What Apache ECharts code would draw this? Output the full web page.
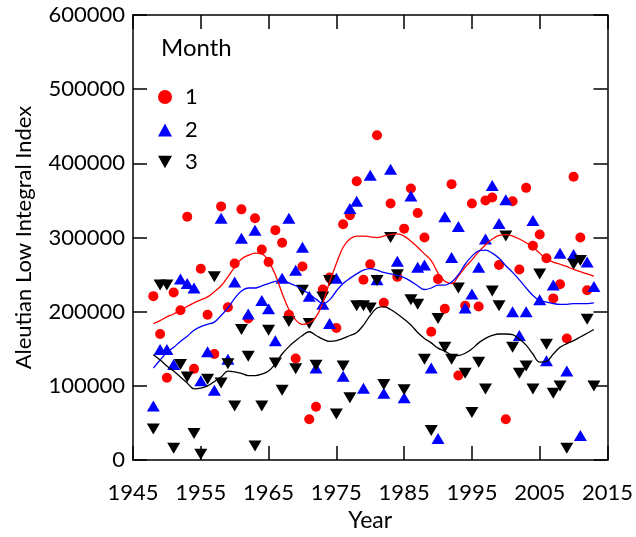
<!DOCTYPE html>
<html>
<head>
<meta charset="utf-8">
<script src="https://cdn.jsdelivr.net/npm/echarts@6/dist/echarts.min.js"></script>
<style>
html,body{margin:0;padding:0;background:#fff;}
#chart{width:636px;height:537px;}
</style>
</head>
<body>
<div id="chart"></div>
<script>
// Years (x axis)
const years = [1948,1949,1950,1951,1952,1953,1954,1955,1956,1957,1958,1959,1960,1961,1962,1963,1964,1965,1966,1967,
  1968,1969,1970,1971,1972,1973,1974,1975,1976,1977,1978,1979,1980,1981,1982,1983,1984,1985,1986,1987,
  1988,1989,1990,1991,1992,1993,1994,1995,1996,1997,1998,1999,2000,2001,2002,2003,2004,2005,2006,2007,
  2008,2009,2010,2011,2012,2013];

// Month 1 (1948-2012), thousands
const month1 = [221,170,111,226,202,328,123,258,196,143,342,206,265,338,191,326,284,267,310,293,
  196,137,261,55,72,230,246,178,318,330,376,243,264,438,212,346,247,312,366,333,
  300,173,244,204,372,114,208,346,207,350,354,263,55,349,257,367,289,304,272,218,
  237,164,382,300,229];
// Month 2 (1948-2013), thousands
const month2 = [73,149,149,129,244,238,232,107,146,94,326,136,240,299,197,310,215,204,161,245,
  326,256,287,221,124,210,184,245,113,339,349,97,384,243,90,392,268,84,356,260,
  263,124,29,328,273,315,205,224,260,298,370,319,351,200,168,200,323,216,134,236,
  279,120,277,33,267,234];
// Month 3 (1948-2013), thousands
const month3 = [42,236,236,16,129,112,36,8,109,247,104,130,73,176,140,19,73,175,131,94,
  187,123,229,184,128,220,242,62,127,84,208,208,205,242,102,300,250,95,216,210,
  136,40,191,152,136,232,117,64,132,96,228,208,302,152,117,127,96,251,156,90,
  100,16,264,269,190,100];

// Smoothed curves (1948-2013), thousands
const smooth1 = [184,188,193,197,202,207,212,216,220,227,235,247,260,271,276,279,278,268,250,225,
  203,189,183,185,193,212,240,265,287,298,302,302,301,300,302,304,305,302,295,287,
  278,269,252,241,238,248,260,270,281,290,298,303,304,302,298,293,287,279,271,267,
  264,261,257,254,251,248];
const smooth2 = [124,135,145,152,160,167,175,180,183,186,195,205,218,228,232,232,235,238,241,242,
  239,235,230,224,217,211,216,228,238,245,251,256,258,256,253,251,249,246,241,235,
  230,232,236,236,240,250,264,275,282,283,279,272,262,253,243,232,222,215,213,211,
  210,210,211,211,211,212];
const smooth3 = [142,135,127,120,112,104,96,97,100,106,112,120,119,117,114,114,116,120,130,143,
  153,161,168,173,168,163,160,161,164,168,172,182,195,205,207,203,197,190,182,172,
  164,158,151,147,142,141,144,150,158,164,168,170,170,169,163,155,143,132,133,143,
  152,157,161,166,171,176];

const xTicks = {min: 1945, max: 2015, interval: 10};
const yTicks = {min: 0, max: 600000, interval: 100000};

function pairs(vals) {
  return vals.map((v, i) => [years[i], v * 1000]);
}

const FONT = 'Lato';
const chart = echarts.init(document.getElementById('chart'), null, {renderer: 'canvas'});

const axisLineStyle = {color: '#000', width: 1.5};
const tickStyle = {inside: true, length: 14, lineStyle: {color: '#000', width: 1.5}};

const downTri = 'path://M0,0 L10,0 L5,9 Z';

const option = {
  animation: false,
  backgroundColor: '#fff',
  grid: {left: 133, top: 15, right: 27, bottom: 72, containLabel: false},
  xAxis: [{
    type: 'value', min: xTicks.min, max: xTicks.max, interval: xTicks.interval,
    name: 'Year', nameLocation: 'middle', nameGap: 48,
    nameTextStyle: {fontFamily: FONT, fontSize: 23, color: '#000'},
    axisLine: {show: true, onZero: false, lineStyle: axisLineStyle},
    axisTick: tickStyle,
    axisLabel: {fontFamily: FONT, fontSize: 22, color: '#000', margin: 22, formatter: v => String(v)},
    splitLine: {show: false}
  }, {
    type: 'value', position: 'top', min: xTicks.min, max: xTicks.max, interval: xTicks.interval,
    axisLine: {show: true, onZero: false, lineStyle: axisLineStyle},
    axisTick: tickStyle, axisLabel: {show: false}, splitLine: {show: false}
  }],
  yAxis: [{
    type: 'value', min: yTicks.min, max: yTicks.max, interval: yTicks.interval,
    name: 'Aleutian Low Integral Index', nameLocation: 'middle', nameGap: 98,
    nameTextStyle: {fontFamily: FONT, fontSize: 22, color: '#000'},
    axisLine: {show: true, onZero: false, lineStyle: axisLineStyle},
    axisTick: tickStyle,
    axisLabel: {fontFamily: FONT, fontSize: 22, color: '#000', margin: 8, formatter: v => String(v)},
    splitLine: {show: false}
  }, {
    type: 'value', position: 'right', min: yTicks.min, max: yTicks.max, interval: yTicks.interval,
    axisLine: {show: true, onZero: false, lineStyle: axisLineStyle},
    axisTick: tickStyle, axisLabel: {show: false}, splitLine: {show: false}
  }],
  legend: [
    {data: [{name: '1', icon: 'circle'}], left: 153, top: 73, itemWidth: 14, itemHeight: 14,
     textStyle: {fontFamily: FONT, fontSize: 22, color: '#000', lineHeight: 22, padding: [16, 0, 0, 8]}},
    {data: [{name: '2', icon: 'triangle'}], left: 153, top: 106, itemWidth: 14, itemHeight: 13,
     textStyle: {fontFamily: FONT, fontSize: 22, color: '#000', lineHeight: 22, padding: [16, 0, 0, 8]}},
    {data: [{name: '3', icon: downTri}], left: 153, top: 138, itemWidth: 14, itemHeight: 13,
     textStyle: {fontFamily: FONT, fontSize: 22, color: '#000', lineHeight: 22, padding: [16, 0, 0, 8]}}
  ],
  graphic: [{
    type: 'text', left: 161, top: 36,
    style: {text: 'Month', font: '24px ' + FONT, fill: '#000'}
  }],
  series: [
    {name: '1', type: 'scatter', data: pairs(month1), symbol: 'circle', symbolSize: 10,
     itemStyle: {color: '#ff0000', opacity: 1}, z: 2},
    {name: '2', type: 'scatter', data: pairs(month2), symbol: 'triangle', symbolSize: [13, 11],
     itemStyle: {color: '#0000ff', opacity: 1}, z: 3},
    {name: '3', type: 'scatter', data: pairs(month3), symbol: 'triangle', symbolRotate: 180, symbolSize: [13, 11],
     itemStyle: {color: '#000000', opacity: 1}, z: 4},
    {name: 'smooth1', type: 'line', data: pairs(smooth1), smooth: 0.4, showSymbol: false, symbol: 'none',
     lineStyle: {color: '#ff0000', width: 1.3}, z: 5},
    {name: 'smooth2', type: 'line', data: pairs(smooth2), smooth: 0.4, showSymbol: false, symbol: 'none',
     lineStyle: {color: '#0000ff', width: 1.3}, z: 5},
    {name: 'smooth3', type: 'line', data: pairs(smooth3), smooth: 0.4, showSymbol: false, symbol: 'none',
     lineStyle: {color: '#000000', width: 1.3}, z: 5}
  ]
};
chart.setOption(option);
</script>
</body>
</html>
